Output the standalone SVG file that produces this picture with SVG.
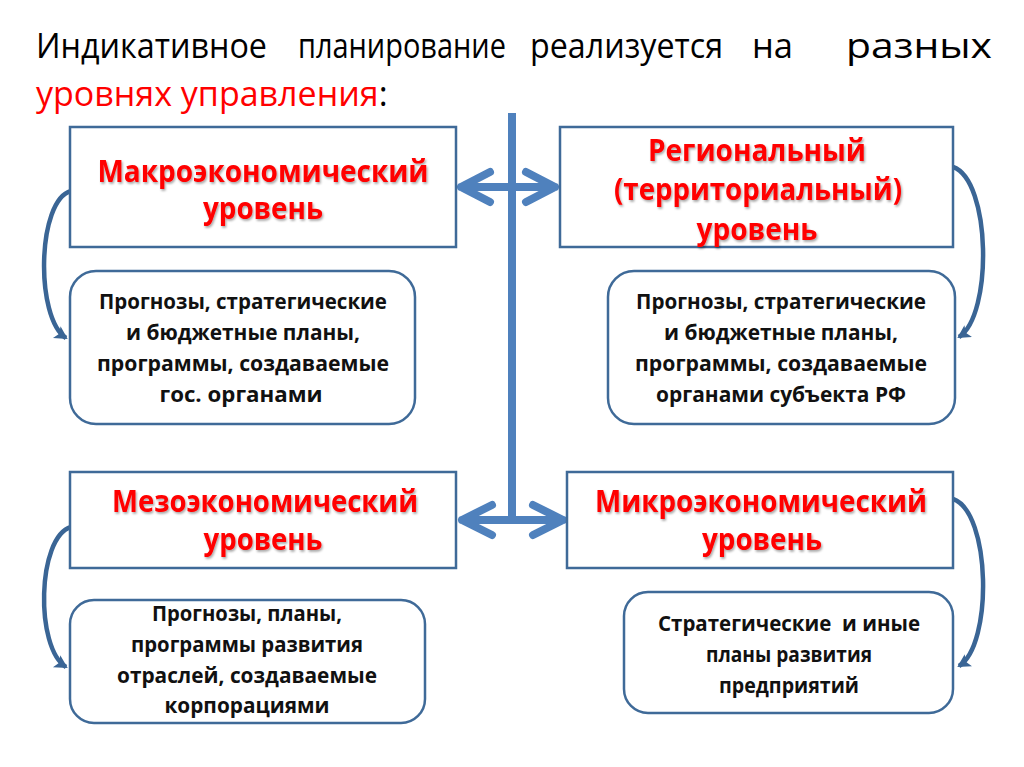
<svg xmlns="http://www.w3.org/2000/svg" width="1024" height="767" viewBox="0 0 1024 767">
<defs>
<style>
.title{font-family:"Open Sans","Liberation Sans",sans-serif;font-size:35px;}
.head{font-family:"Open Sans","Liberation Sans",sans-serif;font-size:30px;font-weight:bold;fill:#FF0000;text-anchor:middle;filter:url(#sh);}
.body{font-family:"Open Sans","Liberation Sans",sans-serif;font-size:21px;font-weight:bold;fill:#111;text-anchor:middle;}
.box{fill:#fff;stroke:#3F6A98;stroke-width:2.5;}
.arr{fill:none;stroke:#4F81BD;stroke-width:8;stroke-linecap:round;stroke-linejoin:round;}
.curve{fill:none;stroke:#3A6595;stroke-width:4.5;marker-end:url(#ah);}
</style>
<filter id="sh" x="-10%" y="-20%" width="120%" height="150%">
<feDropShadow dx="1.2" dy="1.8" stdDeviation="1" flood-color="#000" flood-opacity="0.35"/>
</filter>
<marker id="ah" markerUnits="userSpaceOnUse" markerWidth="16" markerHeight="16" refX="11" refY="7" orient="auto">
<path d="M0,0 L13,7 L0,14 L3,7 Z" fill="#3A6595"/>
</marker>
</defs>
<rect width="1024" height="767" fill="#fff"/>

<g id="title">
<text class="title" x="36" y="58" textLength="231" lengthAdjust="spacingAndGlyphs">Индикативное</text>
<text class="title" x="298" y="58" textLength="208" lengthAdjust="spacingAndGlyphs">планирование</text>
<text class="title" x="530" y="58" textLength="193" lengthAdjust="spacingAndGlyphs">реализуется</text>
<text class="title" x="752" y="58" textLength="41" lengthAdjust="spacingAndGlyphs">на</text>
<text class="title" x="846" y="58" textLength="146" lengthAdjust="spacingAndGlyphs">разных</text>
<text class="title" x="36" y="106" style="font-size:34px"><tspan fill="#FF0000">уровнях управления</tspan><tspan fill="#000">:</tspan></text>
</g>

<g id="connectors">
<rect x="508" y="113" width="8" height="411" fill="#4F81BD"/>
<path class="arr" d="M461,187 H555 M490,172 L461,187 L490,202 M526,172 L555,187 L526,202"/>
<path class="arr" d="M462,520 H563 M492,505 L462,520 L492,535 M533,505 L563,520 L533,535"/>
<path class="curve" d="M71,191 C37,200 35,318 66,338"/>
<path class="curve" d="M71,527 C37,537 35,648 66,667"/>
<path class="curve" d="M953,167 C991,180 993,315 959,337"/>
<path class="curve" d="M953,499 C991,512 993,645 959,666"/>
</g>

<g id="macro">
<rect class="box" x="70" y="127" width="386" height="120"/>
<text class="head" x="263" y="182" textLength="331" lengthAdjust="spacingAndGlyphs">Макроэкономический</text>
<text class="head" x="263" y="219" textLength="120" lengthAdjust="spacingAndGlyphs">уровень</text>
</g>

<g id="regional">
<rect class="box" x="560" y="127" width="393" height="120"/>
<text class="head" x="757" y="161" textLength="218" lengthAdjust="spacingAndGlyphs">Региональный</text>
<text class="head" x="758" y="200" textLength="288" lengthAdjust="spacingAndGlyphs">(территориальный)</text>
<text class="head" x="757" y="240" textLength="121" lengthAdjust="spacingAndGlyphs">уровень</text>
</g>

<g id="meso">
<rect class="box" x="70" y="472" width="386" height="96"/>
<text class="head" x="265" y="512" textLength="306" lengthAdjust="spacingAndGlyphs">Мезоэкономический</text>
<text class="head" x="263" y="550" textLength="119" lengthAdjust="spacingAndGlyphs">уровень</text>
</g>

<g id="micro">
<rect class="box" x="567" y="472" width="386" height="96"/>
<text class="head" x="761" y="512" textLength="332" lengthAdjust="spacingAndGlyphs">Микроэкономический</text>
<text class="head" x="762" y="550" textLength="120" lengthAdjust="spacingAndGlyphs">уровень</text>
</g>

<g id="macro-plans">
<rect class="box" x="70" y="271" width="345" height="153" rx="26"/>
<text class="body" x="243" y="309" textLength="288" lengthAdjust="spacingAndGlyphs">Прогнозы, стратегические</text>
<text class="body" x="243" y="340" textLength="234" lengthAdjust="spacingAndGlyphs">и бюджетные планы,</text>
<text class="body" x="243" y="371" textLength="292" lengthAdjust="spacingAndGlyphs">программы, создаваемые</text>
<text class="body" x="241" y="402" textLength="163" lengthAdjust="spacingAndGlyphs">гос. органами</text>
</g>

<g id="regional-plans">
<rect class="box" x="608" y="271" width="347" height="153" rx="26"/>
<text class="body" x="781" y="309" textLength="290" lengthAdjust="spacingAndGlyphs">Прогнозы, стратегические</text>
<text class="body" x="781" y="340" textLength="234" lengthAdjust="spacingAndGlyphs">и бюджетные планы,</text>
<text class="body" x="781" y="371" textLength="292" lengthAdjust="spacingAndGlyphs">программы, создаваемые</text>
<text class="body" x="781" y="402" textLength="250" lengthAdjust="spacingAndGlyphs">органами субъекта РФ</text>
</g>

<g id="meso-plans">
<rect class="box" x="70" y="600" width="355" height="123" rx="24"/>
<text class="body" x="247" y="621" textLength="190" lengthAdjust="spacingAndGlyphs">Прогнозы, планы,</text>
<text class="body" x="247" y="652" textLength="232" lengthAdjust="spacingAndGlyphs">программы развития</text>
<text class="body" x="247" y="683" textLength="260" lengthAdjust="spacingAndGlyphs">отраслей, создаваемые</text>
<text class="body" x="247" y="713" textLength="165" lengthAdjust="spacingAndGlyphs">корпорациями</text>
</g>

<g id="micro-plans">
<rect class="box" x="624" y="592" width="329" height="121" rx="24"/>
<text class="body" x="789" y="631" textLength="262" lengthAdjust="spacingAndGlyphs" xml:space="preserve">Стратегические  и иные</text>
<text class="body" x="789" y="662" textLength="166" lengthAdjust="spacingAndGlyphs">планы развития</text>
<text class="body" x="789" y="693" textLength="140" lengthAdjust="spacingAndGlyphs">предприятий</text>
</g>
</svg>
